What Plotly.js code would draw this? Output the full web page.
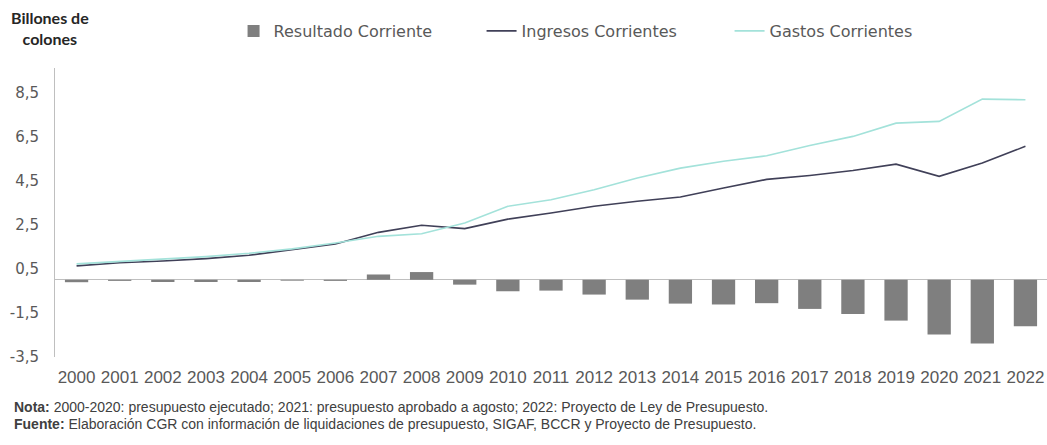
<!DOCTYPE html>
<html>
<head>
<meta charset="utf-8">
<script src="https://cdn.plot.ly/plotly-3.0.1.min.js"></script>
<style>
  html, body { margin: 0; padding: 0; background: #ffffff; }
  #chart { width: 1047px; height: 445px; }
</style>
</head>
<body>
<div id="chart"></div>
<script>
const years = ["2000","2001","2002","2003","2004","2005","2006","2007","2008","2009","2010","2011",
               "2012","2013","2014","2015","2016","2017","2018","2019","2020","2021","2022"];
const resultado = [-0.11,-0.05,-0.10,-0.10,-0.10,-0.04,-0.05,0.24,0.35,-0.22,-0.52,-0.49,
                   -0.67,-0.90,-1.08,-1.12,-1.06,-1.32,-1.55,-1.85,-2.48,-2.89,-2.11];
const ingresos  = [0.63,0.77,0.85,0.96,1.11,1.35,1.62,2.15,2.47,2.32,2.75,3.03,
                   3.33,3.56,3.75,4.16,4.55,4.73,4.95,5.24,4.69,5.29,6.05];
const gastos    = [0.72,0.83,0.93,1.05,1.20,1.40,1.67,1.97,2.09,2.57,3.33,3.63,
                   4.08,4.61,5.06,5.37,5.62,6.09,6.50,7.10,7.18,8.19,8.16];
const yTickVals = [-3.5,-1.5,0.5,2.5,4.5,6.5,8.5];
const yTickText = ["-3,5","-1,5","0,5","2,5","4,5","6,5","8,5"];
const seriesNames = ["Resultado Corriente","Ingresos Corrientes","Gastos Corrientes"];
const axisTitle = "<b>Billones de<br>colones</b>";
const notaText = "<b>Nota:</b> 2000-2020: presupuesto ejecutado; 2021: presupuesto aprobado a agosto; 2022: Proyecto de Ley de Presupuesto.";
const fuenteText = "<b>Fuente:</b> Elaboración CGR con información de liquidaciones de presupuesto, SIGAF, BCCR y Proyecto de Presupuesto.";

const traces = [
  { type: "bar", x: years, y: resultado, name: seriesNames[0],
    marker: { color: "#7f7f7f" }, hoverinfo: "x+y" },
  { type: "scatter", mode: "lines", x: years, y: ingresos, name: seriesNames[1],
    line: { color: "#404058", width: 1.6 } },
  { type: "scatter", mode: "lines", x: years, y: gastos, name: seriesNames[2],
    line: { color: "#a3e2da", width: 1.6 } }
];

const layout = {
  width: 1047, height: 445,
  margin: { l: 55, r: 0, t: 68, b: 88 },
  paper_bgcolor: "#ffffff", plot_bgcolor: "#ffffff",
  font: { family: "'DejaVu Sans', sans-serif", color: "#595959" },
  bargap: 0.46,
  showlegend: true,
  legend: {
    orientation: "h", x: 0.18, xanchor: "left", y: 1.128, yanchor: "middle",
    font: { size: 16, color: "#595959", family: "'DejaVu Sans', sans-serif" },
    entrywidth: 203, entrywidthmode: "pixels", traceorder: "normal",
    itemwidth: 30
  },
  xaxis: {
    type: "category", showgrid: false, zeroline: false, showline: false,
    ticks: "", tickangle: 0, ticklabelstandoff: 8,
    tickfont: { family: "'Liberation Sans', Arial, sans-serif", size: 17, color: "#595959" }
  },
  yaxis: {
    range: [-3.5, 9.6], showgrid: false,
    zeroline: true, zerolinecolor: "#bfbfbf", zerolinewidth: 1,
    showline: true, linecolor: "#bfbfbf", linewidth: 1,
    ticks: "", tickvals: yTickVals, ticktext: yTickText, ticklabelstandoff: 12,
    tickfont: { family: "'DejaVu Sans', sans-serif", size: 15, color: "#595959" }
  },
  annotations: [
    { xref: "paper", yref: "paper", x: -0.005, y: 1 + (68 - 28) / 289, xanchor: "center", yanchor: "middle",
      text: axisTitle, showarrow: false, align: "center",
      font: { family: "Lato, sans-serif", size: 16, color: "#262626" } },
    { xref: "paper", yref: "paper", x: -43 / 992, y: -(407 - 357) / 289, xanchor: "left", yanchor: "middle",
      text: notaText, showarrow: false, align: "left",
      font: { family: "'Liberation Sans Narrow', 'Liberation Sans', sans-serif", size: 14, color: "#404040" } },
    { xref: "paper", yref: "paper", x: -43 / 992, y: -(424 - 357) / 289, xanchor: "left", yanchor: "middle",
      text: fuenteText, showarrow: false, align: "left",
      font: { family: "'Liberation Sans Narrow', 'Liberation Sans', sans-serif", size: 14, color: "#404040" } }
  ]
};

Plotly.newPlot("chart", traces, layout, { displayModeBar: false, staticPlot: true });
</script>
</body>
</html>
